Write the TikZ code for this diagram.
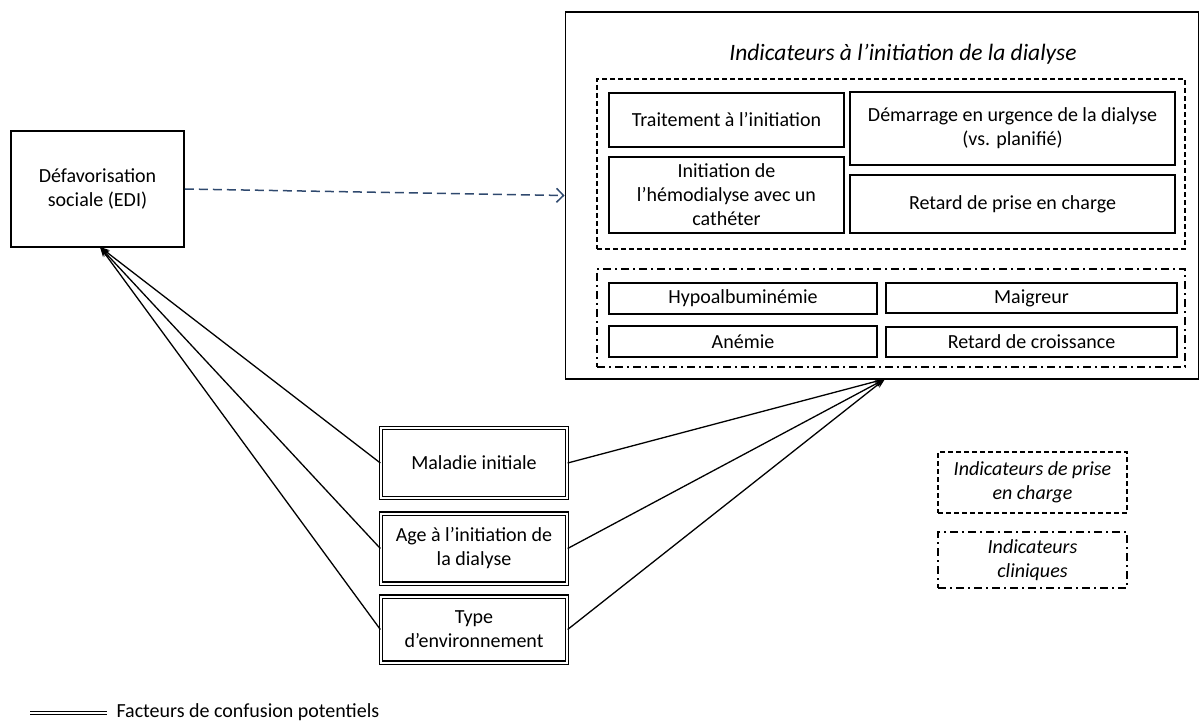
\documentclass[tikz,border=0pt]{standalone}
\usepackage{fontspec}
\setmainfont{Carlito}
\usetikzlibrary{arrows.meta}

\definecolor{edgeblue}{RGB}{47,73,110}
\tikzset{
  box/.style={draw, line width=1.9pt, inner sep=0pt, align=center},
  dbox/.style={draw, double, line width=1.3pt, double distance=2pt,
    inner sep=0pt, align=center},
  grpdash/.style={draw, line width=1.9pt, dash pattern=on 5pt off 3pt,
    inner sep=0pt, align=center},
  grpdot/.style={draw, line width=1.9pt, dash pattern=on 8pt off 4pt on 2pt off 4pt,
    inner sep=0pt, align=center},
  conf/.style={line width=1.3pt, -{Stealth[length=10pt,width=7pt]}},
}

\begin{document}
\begin{tikzpicture}[x=1pt, y=-1pt, font=\fontsize{20}{24}\selectfont]
  \useasboundingbox (0,0) rectangle (1203,722);

  \node[box, minimum width=173, minimum height=116] (edi) at (97.5,189)
    {D\'efavorisation\\sociale (EDI)};

  % indicateurs
  \node[box, minimum width=633, minimum height=367] (big) at (882,195.5) {};
  \node[font=\fontsize{23.5}{28}\selectfont\itshape] (titre) at (903,54)
    {Indicateurs \`a l'initiation de la dialyse};
  \node[grpdash, minimum width=588, minimum height=170] (pec) at (891,164) {};
  \node[box, minimum width=235, minimum height=54] (trait) at (726.5,120)
    {Traitement \`a l'initiation};
  \node[box, minimum width=325, minimum height=73] (urg) at (1012.5,128.5)
    {D\'emarrage en urgence de la dialyse\\(vs. planifi\'e)};
  \node[box, minimum width=235, minimum height=76] (cath) at (726.5,195)
    {Initiation de\\l'h\'emodialyse avec un\\cath\'eter};
  \node[box, minimum width=325, minimum height=58] (retpec) at (1012.5,204)
    {Retard de prise en charge};
  \node[grpdot, minimum width=588, minimum height=98] (clin) at (891,318) {};
  \node[box, minimum width=268, minimum height=31] (hypo) at (743,298.5)
    {Hypoalbumin\'emie};
  \node[box, minimum width=291, minimum height=30] (maig) at (1031.5,298)
    {Maigreur};
  \node[box, minimum width=268, minimum height=31] (anem) at (743,341.5)
    {An\'emie};
  \node[box, minimum width=291, minimum height=30] (retcro) at (1031.5,342)
    {Retard de croissance};

  % facteurs de confusion
  \node[dbox, minimum width=186, minimum height=70] (mal) at (474,463)
    {Maladie initiale};
  \node[dbox, minimum width=186, minimum height=70] (age) at (474,548.5)
    {Age \`a l'initiation de\\la dialyse};
  \node[dbox, minimum width=186, minimum height=66] (env) at (474,629.5)
    {Type\\d'environnement};

  \coordinate (edin) at (100,247);
  \coordinate (bigin) at (885,379);
  \foreach \f in {mal,age,env} {
    \draw[conf] (\f.west) -- (edin);
    \draw[conf] (\f.east) -- (bigin);
  }
  \draw[edgeblue, line width=1.5pt, dash pattern=on 9pt off 5pt,
    -{Straight Barb[length=7pt,width=14pt]}] (edi.east) -- (big.west);

  % legende
  \node[grpdash, minimum width=189, minimum height=61,
    font=\fontsize{20}{24}\selectfont\itshape] (lpec) at (1032.5,482.5)
    {Indicateurs de prise\\en charge};
  \node[grpdot, minimum width=189, minimum height=56,
    font=\fontsize{20}{24}\selectfont\itshape] (lclin) at (1032.5,560)
    {Indicateurs\\cliniques};
  \coordinate (l1) at (30,713);
  \coordinate (l2) at (107,713);
  \draw[double, line width=1.3pt, double distance=2pt] (l1) -- (l2);
  \node[anchor=west] (lconf) at (113,712) {Facteurs de confusion potentiels};
\end{tikzpicture}
\end{document}
